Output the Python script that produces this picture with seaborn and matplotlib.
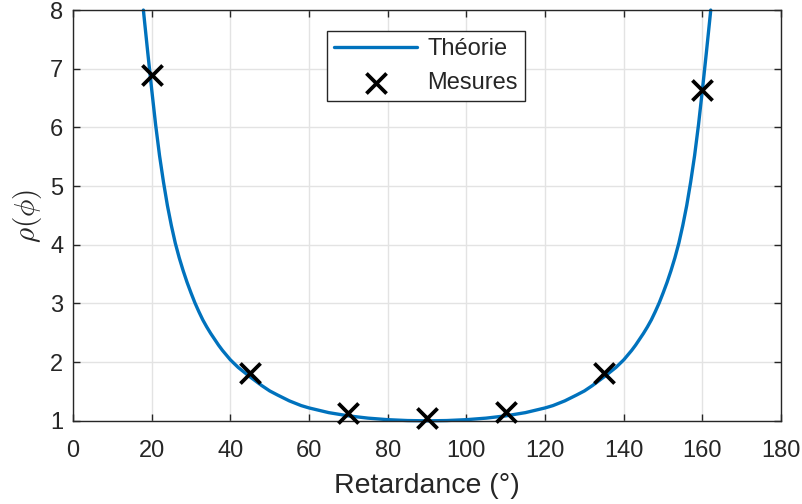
import numpy as np
import pandas as pd
import seaborn as sns
import matplotlib.pyplot as plt

# Courbe théorique
phi_theorie = [17.9, 18, 19, 20, 21, 22, 23, 24, 25, 26, 27, 28, 29, 30, 31, 32, 33, 34,
               35, 36, 37, 38, 39, 40, 42, 45, 48, 50, 52, 55, 58, 60, 65, 70, 75, 80,
               85, 90, 95, 100, 105, 110, 115, 120, 122, 125, 128, 130, 132, 135, 138,
               140, 141, 142, 143, 144, 145, 146, 147, 148, 149, 150, 151, 152, 153,
               154, 155, 156, 157, 158, 159, 160, 161, 162, 162.1]
rho_theorie = [8.0, 7.93, 7.28, 6.65, 6.05, 5.52, 5.07, 4.67, 4.33, 4.03, 3.78, 3.56,
               3.36, 3.18, 3.01, 2.86, 2.72, 2.60, 2.49, 2.39, 2.29, 2.20, 2.12, 2.04,
               1.91, 1.75, 1.60, 1.51, 1.44, 1.34, 1.26, 1.22, 1.14, 1.085, 1.046, 1.02,
               1.005, 1.0, 1.005, 1.02, 1.046, 1.085, 1.14, 1.22, 1.26, 1.34, 1.44, 1.51,
               1.60, 1.75, 1.91, 2.04, 2.12, 2.20, 2.29, 2.39, 2.49, 2.60, 2.72, 2.86,
               3.01, 3.18, 3.36, 3.56, 3.78, 4.03, 4.33, 4.67, 5.07, 5.52, 6.05, 6.65,
               7.28, 7.93, 8.0]

# Mesures
phi_mesures = [20, 45, 70, 90, 110, 135, 160]
rho_mesures = [6.89, 1.81, 1.14, 1.04, 1.15, 1.81, 6.64]

x_ticks = [0, 20, 40, 60, 80, 100, 120, 140, 160, 180]
y_ticks = [1, 2, 3, 4, 5, 6, 7, 8]

df_th = pd.DataFrame({'phi': phi_theorie, 'rho': rho_theorie})
df_me = pd.DataFrame({'phi': phi_mesures, 'rho': rho_mesures})

sns.set_theme(style="whitegrid")
plt.rcParams['font.family'] = ['Liberation Sans', 'DejaVu Sans']
plt.rcParams['mathtext.fontset'] = 'cm'

fig = plt.figure(figsize=(8.02, 5.04), dpi=100)
ax = fig.add_axes([0.091, 0.165, 0.883, 0.815])

sns.lineplot(data=df_th, x='phi', y='rho', color='#0072BD', linewidth=2.4,
             sort=False, clip_on=False, label='Théorie', ax=ax)
sns.scatterplot(data=df_me, x='phi', y='rho', marker='x', s=210, color='black',
                linewidth=2.7, clip_on=False, zorder=5, label='Mesures', ax=ax)

ax.set_xlim(0, 180)
ax.set_ylim(1, 8)
ax.set_xticks(x_ticks)
ax.set_yticks(y_ticks)

ax.grid(True, color='#e3e3e3', linewidth=1.0)
for s in ax.spines.values():
    s.set_color('#262626')
    s.set_linewidth(1.0)
ax.tick_params(direction='in', length=5, width=1, color='#262626',
               labelsize=17, labelcolor='#262626', top=True, right=True,
               bottom=True, left=True)
ax.tick_params(axis='x', pad=14)
ax.tick_params(axis='y', pad=7)

ax.set_xlabel('Retardance (°)', fontsize=20.5, color='#262626', labelpad=8)
ax.set_ylabel(r'$\rho(\phi)$', fontsize=21, color='#262626', labelpad=4)

leg = ax.legend(loc='upper left', bbox_to_anchor=(0.359, 0.949), fontsize=17,
                frameon=True, fancybox=False, framealpha=1, edgecolor='#262626',
                handlelength=3.5, borderpad=0.3, labelspacing=0.52,
                handletextpad=0.45, borderaxespad=0)
leg.get_frame().set_linewidth(1.0)

fig.savefig('out.png', dpi=100)
